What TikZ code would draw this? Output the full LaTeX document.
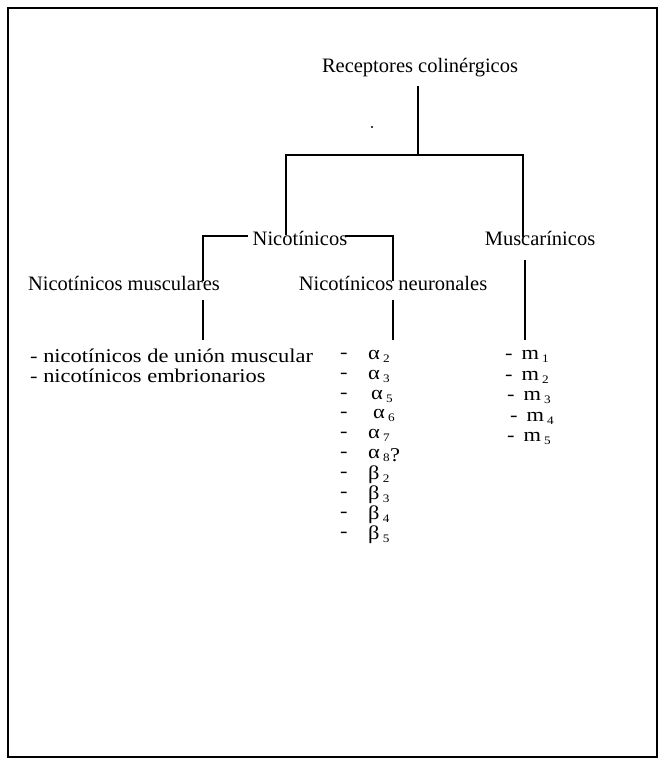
\documentclass[tikz,border=0pt]{standalone}
\usepackage{fontspec}
\setmainfont{Liberation Serif}
\newfontfamily\listfont[FakeStretch=1.15]{Liberation Serif}
\newcommand{\sbs}[1]{\raisebox{-3pt}{\fontsize{11.5}{11.5}\selectfont #1}}
\begin{document}
\begin{tikzpicture}[x=1pt,y=-1pt,
  lbl/.style={inner sep=0pt,font=\fontsize{20.5}{22}\selectfont},
  itm/.style={inner sep=0pt,anchor=west,font=\listfont\fontsize{19.5}{21}\selectfont},
  con/.style={line width=1.5pt}]
\useasboundingbox (0,0) rectangle (665,762);
\draw[line width=1.8pt] (8,8) rectangle (657,757);
% nodes
\node[lbl] (rc) at (420,68) {Receptores colinérgicos};
\node[lbl] (nic) at (300,238) {Nicotínicos};
\node[lbl] (mus) at (540,238) {Muscarínicos};
\node[lbl] (nmu) at (124,283) {Nicotínicos musculares};
\node[lbl] (nne) at (393,283) {Nicotínicos neuronales};
\coordinate (jl) at (286,155);
\coordinate (jr) at (523,155);
\coordinate (bl) at (203,236);
\coordinate (br) at (393,236);
\fill (372,127) circle (1.1pt);
% connectors
\draw[con] (418,86) -- (418,155);
\draw[con] ([yshift=-4pt]jl |- nic.north) -- (jl) -- (jr) -- ([yshift=-6pt]jr |- mus.north);
\draw[con] ([xshift=-5pt]nic.west |- bl) -- (bl) -- ([yshift=-5pt]bl |- nmu.north);
\draw[con] ([xshift=-2pt]nic.east |- br) -- (br) -- ([yshift=-5pt]br |- nne.north);
\draw[con] (203,300) -- (203,340);
\draw[con] (393,300) -- (393,340);
\draw[con] (525,260) -- (525,340);
% muscular list
\node[itm] (m1) at (30,356) {- nicotínicos de unión muscular};
\node[itm] (m2) at (30,376) {- nicotínicos embrionarios};
% neuronal list
\foreach \n/\y/\s/\g/\x in {a2/356/2/α/368, a3/376/3/α/368, a5/396/5/α/371, a6/415/6/α/373, a7/435/7/α/368, a8/455/8/α/368, b2/475/2/β/368, b3/495/3/β/368, b4/515/4/β/368, b5/535/5/β/368}{
  \node[itm] (d\n) at (340,\y) {-};
  \node[itm] (\n) at (\x,\y) {\g\,\sbs{\s}};
}
\node[itm] (q8) at (a8.east) {?};
% muscarinic list
\foreach \n/\y/\x in {1/356/505, 2/377/505, 3/397/507, 4/418/510, 5/438/507}{
  \node[itm] (mm\n) at (\x,\y) {-\, m\,\sbs{\n}};
}
\end{tikzpicture}
\end{document}
